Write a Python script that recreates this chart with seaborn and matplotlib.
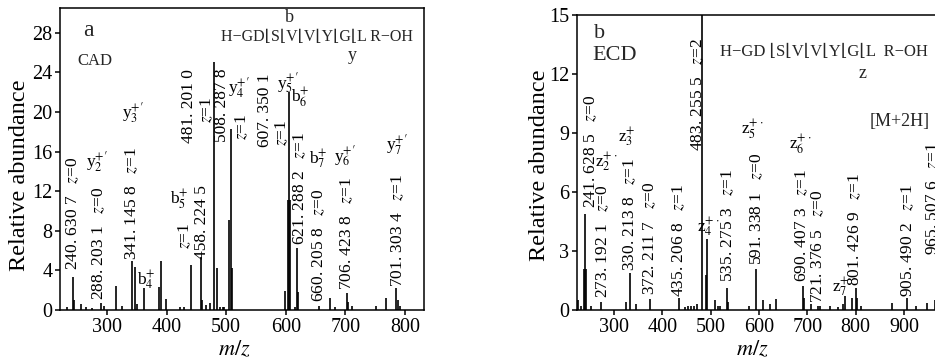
import numpy as np
import pandas as pd
import matplotlib
matplotlib.use('Agg')
import matplotlib.pyplot as plt
import seaborn as sns

# Peak lists (m/z, relative abundance).
cad_mz = [232, 243.4, 244.6, 256, 264, 274, 290, 295, 314.6, 324.6, 342.5, 347, 349.8,
          362, 387.8, 390, 399, 423, 429.7, 440.4, 457.7, 460, 465.6, 472.8, 480, 484,
          489.6, 494, 497, 504.7, 507.4, 509.7, 598.7, 603.2, 605.4, 607.0, 615.4, 618.3,
          620.5, 655.7, 674, 682.4, 702.7, 704.4, 711, 751, 768, 785, 788, 791]
cad_int = [0.3, 3.3, 1.0, 0.6, 0.3, 0.25, 0.7, 0.4, 2.4, 0.4, 4.9, 4.3, 0.6,
           2.2, 2.3, 4.9, 1.1, 0.3, 0.3, 4.5, 5.4, 1.0, 0.5, 0.7, 25.0, 4.2,
           0.3, 0.3, 0.3, 9.1, 18.3, 4.2, 1.9, 11.1, 22.0, 11.1, 0.3, 6.3,
           1.8, 0.4, 1.2, 0.3, 1.7, 0.8, 0.4, 0.4, 1.2, 2.2, 1.0, 0.4]

ecd_mz = [225.5, 231.7, 238, 240, 242, 252.4, 273, 324.8, 332, 345.5, 374.5, 434.5,
          447, 453, 459, 465.5, 471.7, 482, 490.3, 492.4, 509, 514, 519, 533.8, 536,
          579, 593.8, 608.3, 622.8, 635.2, 691, 693, 707.6, 722, 726, 747, 763.5, 774,
          778, 792.4, 800.7, 803, 811, 875, 906, 925, 947.6, 964]
ecd_int = [0.5, 0.2, 2.1, 4.9, 2.1, 0.2, 0.4, 0.4, 1.9, 0.3, 0.55, 0.6,
           0.15, 0.2, 0.2, 0.2, 0.3, 15.5, 1.8, 3.6, 0.5, 0.2, 0.2, 1.1, 0.4,
           0.2, 2.1, 0.5, 0.3, 0.56, 1.2, 0.6, 0.3, 0.2, 0.2, 0.2, 0.15, 0.3,
           0.7, 0.6, 1.1, 0.6, 0.2, 0.35, 0.6, 0.2, 0.35, 0.5]

# Rotated peak annotations: text, then anchor (m/z, abundance) of the text bottom.
cad_notes = ['240. 630 7   $z$=0', '288. 203 1   $z$=0', '341. 145 8   $z$=1', '$z$=1',
             '458. 224 5', '481. 201 0', '$z$=1', '508. 287 8', '$z$=1', '607. 350 1',
             '$z$=1', '621. 288 2   $z$=1', '660. 205 8   $z$=0', '706. 423 8   $z$=1',
             '701. 303 4   $z$=1']
cad_note_x = [243, 287, 342, 431, 459.4, 437.6, 467.8, 493, 526.5, 565,
              593.6, 623.8, 655.7, 702.7, 788.3]
cad_note_y = [4.0, 1.0, 5.0, 6.2, 5.2, 16.9, 18.9, 17.0, 17.2, 16.5,
              16.6, 6.6, 0.8, 2.0, 2.3]

cad_ions = [r'y$_2^{+\prime}$', r'y$_3^{+\prime}$', r'b$_4^{+}$', r'b$_5^{+}$',
            r'y$_4^{+\prime}$', r'y$_5^{+\prime}$', r'b$_6^{+}$', r'b$_7^{+}$',
            r'y$_6^{+\prime}$', r'y$_7^{+\prime}$']
cad_ion_x = [283, 343.6, 365.4, 420.8, 521.5, 603.7, 623.8, 654, 699.3, 786.6]
cad_ion_y = [15.0, 19.9, 3.0, 11.1, 22.5, 22.9, 21.4, 15.2, 15.5, 16.7]

ecd_notes = ['241. 628 5   $z$=0', '273. 192 1   $z$=0', '330. 213 8   $z$=1',
             '372. 211 7   $z$=0', '435. 206 8   $z$=1', '483. 255 5   $z$=2',
             '535. 275 3   $z$=1', '591. 338 1   $z$=0', '690. 407 3   $z$=1',
             '721. 376 5   $z$=0', '801. 426 9   $z$=1', '905. 490 2   $z$=1',
             '965. 507 6   $z$=1']
ecd_note_x = [252.4, 277.2, 333, 374.5, 434.5, 473.8, 535.9, 595.9, 689, 722, 798.7, 908.3, 960]
ecd_note_y = [5.2, 0.6, 2.0, 0.76, 0.66, 8.1, 1.4, 2.3, 1.4, 0.36, 1.2, 0.66, 2.8]

ecd_ions = [r'z$_2^{+\cdot}$', r'z$_3^{+}$', r'z$_4^{+\cdot}$', r'z$_5^{+\cdot}$',
            r'z$_6^{+\cdot}$', r'z$_7^{+}$']
ecd_ion_x = [283, 327, 494.5, 585.5, 684.8, 769.7]
ecd_ion_y = [7.5, 8.8, 4.2, 9.15, 8.4, 1.17]

cad_seq = 'H\u2212GD\u230aS\u230aV\u230aV\u230aY\u230aG\u230aL R\u2212OH'
ecd_seq = 'H\u2212GD \u230aS\u230aV\u230aV\u230aY\u230aG\u230aL  R\u2212OH'

sns.set_style('ticks')
plt.rcParams['font.family'] = ['Liberation Serif', 'DejaVu Serif', 'DejaVu Sans']
plt.rcParams['mathtext.fontset'] = 'stix'
plt.rcParams['axes.linewidth'] = 1.1
plt.rcParams['xtick.major.width'] = 1.1
plt.rcParams['ytick.major.width'] = 1.1
plt.rcParams['xtick.major.size'] = 3.5
plt.rcParams['ytick.major.size'] = 3.5

fig = plt.figure(figsize=(9.35, 3.64), dpi=100)
W, H = 935, 364
ax1 = fig.add_axes([60 / W, 1 - 310 / H, 364 / W, 302 / H])
ax2 = fig.add_axes([577 / W, 1 - 310 / H, 383 / W, 295 / H])

cad = pd.DataFrame({'mz': cad_mz, 'intensity': cad_int})
ecd = pd.DataFrame({'mz': ecd_mz, 'intensity': ecd_int})

for ax, df in [(ax1, cad), (ax2, ecd)]:
    ax.vlines(df['mz'], 0, df['intensity'], color='black', lw=1.2)
    for s in ax.spines.values():
        s.set_color('black')
    ax.tick_params(colors='black', labelsize=14.5, pad=2)
    ax.set_ylabel('Relative abundance', fontsize=17.5, color='black')
    ax.set_xlabel('$m/z$', fontsize=16, color='black')

ax1.set_xlim(221, 832)
ax1.set_ylim(0, 30.5)
ax1.set_xticks([300, 400, 500, 600, 700, 800])
ax1.set_yticks(np.arange(0, 29, 4))
ax1.yaxis.set_label_coords(-0.082, 0.447)
ax1.xaxis.set_label_coords(0.48, -0.1)

ax2.set_xlim(223, 1016)
ax2.set_ylim(0, 15)
ax2.set_xticks([300, 400, 500, 600, 700, 800, 900])
ax2.set_yticks(np.arange(0, 16, 3))
ax2.yaxis.set_label_coords(-0.07, 0.49)
ax2.xaxis.set_label_coords(0.457, -0.102)

for ax, notes, nx, ny, ions, ix, iy in [
        (ax1, cad_notes, cad_note_x, cad_note_y, cad_ions, cad_ion_x, cad_ion_y),
        (ax2, ecd_notes, ecd_note_x, ecd_note_y, ecd_ions, ecd_ion_x, ecd_ion_y)]:
    for t, x, y in zip(notes, nx, ny):
        ax.text(x, y, t, rotation=90, ha='center', va='bottom', fontsize=12.5,
                color='black', clip_on=False)
    for t, x, y in zip(ions, ix, iy):
        ax.text(x, y, t, ha='center', va='center', fontsize=12.5, color='black')

# panel a headers
fig.text(88 / W, 1 - 30 / H, 'a', fontsize=17, ha='center', va='center')
fig.text(95 / W, 1 - 61 / H, 'CAD', fontsize=12, ha='center', va='center')
fig.text(317 / W, 1 - 37 / H, cad_seq, fontsize=11.5, ha='center', va='center')
fig.text(289 / W, 1 - 18 / H, 'b', fontsize=13, ha='center', va='center')
fig.text(352 / W, 1 - 56 / H, 'y', fontsize=13, ha='center', va='center')

# panel b headers
fig.text(600 / W, 1 - 33 / H, 'b', fontsize=16, ha='center', va='center')
fig.text(615 / W, 1 - 55 / H, 'ECD', fontsize=16, ha='center', va='center')
fig.text(824 / W, 1 - 52 / H, ecd_seq, fontsize=12, ha='center', va='center')
fig.text(863 / W, 1 - 73 / H, 'z', fontsize=13, ha='center', va='center')
fig.text(900 / W, 1 - 122 / H, '[M+2H]', fontsize=13, ha='center', va='center')

fig.savefig('out.png', dpi=100)
